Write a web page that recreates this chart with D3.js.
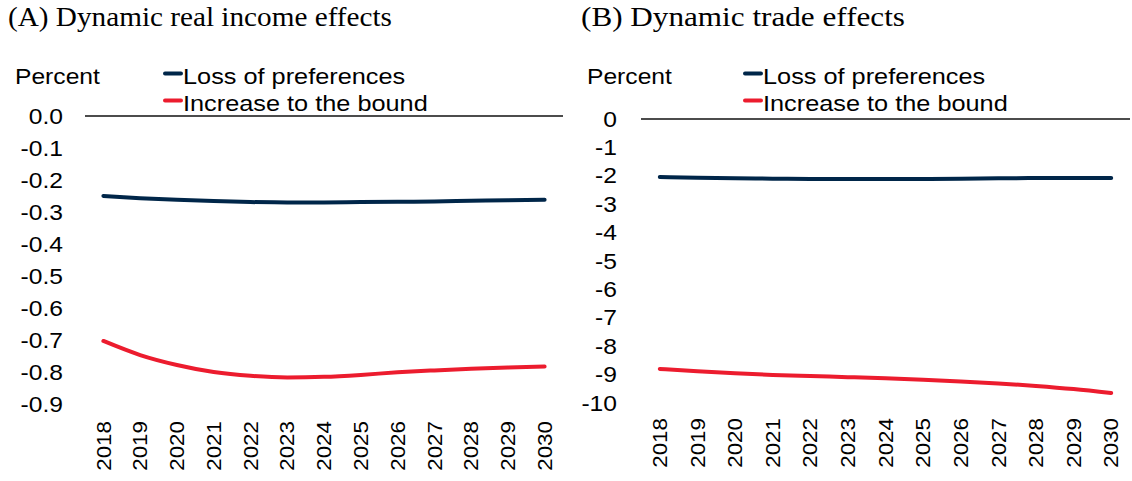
<!DOCTYPE html>
<html>
<head>
<meta charset="utf-8">
<script src="https://cdn.jsdelivr.net/npm/d3@7"></script>
<style>
  body { margin: 0; background: #fff; }
  svg text { fill: #000; }
</style>
</head>
<body>
<div id="vis"></div>
<script>
const FRAME_WIDTH = 1132;
const FRAME_HEIGHT = 481;
const SX = 1.12; // the source text is a bit wide, stretch it

const years = ["2018", "2019", "2020", "2021", "2022", "2023", "2024",
               "2025", "2026", "2027", "2028", "2029", "2030"];

// panel A: real income, percent
const incomeLoss = [-0.250, -0.257, -0.262, -0.266, -0.269, -0.270, -0.270,
                    -0.269, -0.268, -0.267, -0.265, -0.263, -0.262];
const incomeBound = [-0.703, -0.747, -0.778, -0.800, -0.812, -0.817, -0.815,
                     -0.809, -0.801, -0.795, -0.790, -0.786, -0.783];
const incomeTicks = [0, -0.1, -0.2, -0.3, -0.4, -0.5, -0.6, -0.7, -0.8, -0.9];

// panel B: trade, percent
const tradeLoss = [-2.04, -2.07, -2.09, -2.10, -2.11, -2.11, -2.11,
                   -2.11, -2.10, -2.09, -2.08, -2.08, -2.08];
const tradeBound = [-8.80, -8.88, -8.95, -9.01, -9.05, -9.09, -9.13,
                    -9.18, -9.24, -9.31, -9.40, -9.51, -9.65];
const tradeTicks = [0, -1, -2, -3, -4, -5, -6, -7, -8, -9, -10];

const seriesNames = ["Loss of preferences", "Increase to the bound"];
const COLORS = ["#002649", "#ec1c2e"];
const SANS = "'Liberation Sans', Arial, sans-serif";

const svg = d3.select("#vis")
  .append("svg")
    .attr("width", FRAME_WIDTH)
    .attr("height", FRAME_HEIGHT);

// plain hyphen instead of d3's unicode minus
const hyphen = (f) => (d) => f(d).replace("\u2212", "-");

function stretchedText(g, x, y, str, size) {
  return g.append("text")
    .attr("transform", "translate(" + x + "," + y + ") scale(" + SX + ",1)")
    .attr("font-family", SANS)
    .attr("font-size", size)
    .text(str);
}

function drawPanel(opt) {
  const g = svg.append("g");

  g.append("text")
    .attr("x", opt.titleX)
    .attr("y", 26)
    .attr("font-family", "'Liberation Serif', 'DejaVu Serif', serif")
    .attr("font-size", 27)
    .attr("textLength", opt.titleLen)
    .attr("lengthAdjust", "spacingAndGlyphs")
    .text(opt.title);

  stretchedText(g, opt.percentX, 84, "Percent", 22);

  const X = d3.scaleBand()
    .domain(years)
    .range(opt.xRange);

  const Y = d3.scaleLinear()
    .domain(opt.yDomain)
    .range(opt.yRange);

  // y axis labels, no axis line
  const yAxis = g.append("g")
    .attr("transform", "translate(" + opt.xRange[0] + ",0)")
    .call(d3.axisLeft(Y).tickValues(opt.ticks).tickFormat(hyphen(opt.fmt)).tickSize(0));
  yAxis.select(".domain").remove();
  yAxis.selectAll("text")
    .attr("font-family", SANS)
    .attr("font-size", 22)
    .attr("fill", "#000")
    .attr("x", 0)
    .attr("transform", "translate(" + (-opt.yPad) + ",0) scale(" + SX + ",1)");

  // zero line
  g.append("line")
    .attr("x1", opt.xRange[0]).attr("x2", opt.xRange[1])
    .attr("y1", Y(0)).attr("y2", Y(0))
    .attr("stroke", "#111")
    .attr("stroke-width", 1.3);

  // x labels rotated
  const xAxis = g.append("g")
    .attr("transform", "translate(0," + opt.xLabelY + ")")
    .call(d3.axisBottom(X).tickSize(0).tickPadding(0));
  xAxis.select(".domain").remove();
  xAxis.selectAll("text")
    .attr("font-family", SANS)
    .attr("font-size", 20)
    .attr("fill", "#000")
    .attr("transform", "rotate(-90) scale(" + SX + ",1)")
    .attr("text-anchor", "end")
    .attr("x", 0)
    .attr("y", 0)
    .attr("dx", 0)
    .attr("dy", "0.36em");

  const line = d3.line()
    .x((d, i) => X(years[i]) + X.bandwidth() / 2)
    .y(d => Y(d))
    .curve(d3.curveMonotoneX);

  opt.series.forEach((s, i) => {
    g.append("path")
      .datum(s)
      .attr("d", line)
      .attr("fill", "none")
      .attr("stroke", COLORS[i])
      .attr("stroke-width", 4)
      .attr("stroke-linecap", "round");
  });

  // legend
  seriesNames.forEach((name, i) => {
    const ly = 73.5 + i * 27;
    g.append("line")
      .attr("x1", opt.legendX).attr("x2", opt.legendX + 16)
      .attr("y1", ly).attr("y2", ly)
      .attr("stroke", COLORS[i])
      .attr("stroke-width", 4)
      .attr("stroke-linecap", "round");
    stretchedText(g, opt.legendX + 18, ly + 10.5, name, 22.6);
  });
}

drawPanel({
  title: "(A) Dynamic real income effects",
  titleX: 8,
  titleLen: 384,
  percentX: 15,
  legendX: 165,
  xRange: [85, 563],
  yDomain: [0, -0.9],
  yRange: [116, 404],
  ticks: incomeTicks,
  fmt: d3.format(".1f"),
  yPad: 22,
  xLabelY: 421,
  series: [incomeLoss, incomeBound]
});

drawPanel({
  title: "(B) Dynamic trade effects",
  titleX: 581,
  titleLen: 324,
  percentX: 587,
  legendX: 745,
  xRange: [641, 1130],
  yDomain: [0, -10],
  yRange: [119, 403],
  ticks: tradeTicks,
  fmt: d3.format("d"),
  yPad: 24,
  xLabelY: 418,
  series: [tradeLoss, tradeBound]
});
</script>
</body>
</html>
